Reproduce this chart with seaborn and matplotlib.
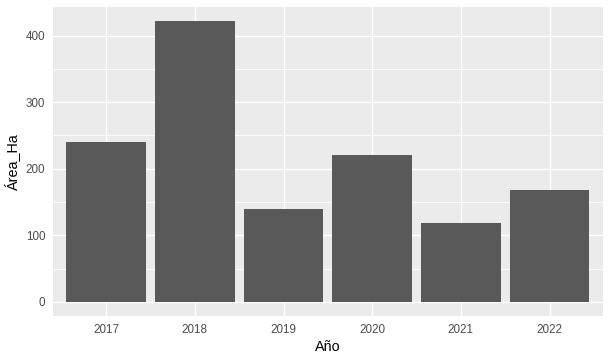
import numpy as np
import pandas as pd
import matplotlib
matplotlib.use("Agg")
import matplotlib.pyplot as plt
import seaborn as sns

################ DATA ################
years = ["2017", "2018", "2019", "2020", "2021", "2022"]
area_ha = [240.5, 421.8, 139.0, 221.2, 118.0, 167.4]

df = pd.DataFrame({"Año": years, "Área_Ha": area_ha})

################ STYLE (ggplot2 grey theme) ################
sns.set_theme(style="darkgrid", rc={
    "axes.facecolor": "#EBEBEB",
    "grid.color": "white",
    "axes.edgecolor": "#EBEBEB",
})
plt.rcParams["font.family"] = ["Liberation Sans", "DejaVu Sans"]

fig = plt.figure(figsize=(6.11, 3.62), dpi=100)
ax = fig.add_axes([53 / 611, 46 / 362, (602.7 - 53) / 611, (316 - 7) / 362])

sns.barplot(data=df, x="Año", y="Área_Ha", color="#595959", width=0.9,
            saturation=1, linewidth=0, edgecolor="none", ax=ax, zorder=3)

ymax = max(area_ha)
ax.set_xlim(-0.6, 5.6)
ax.set_ylim(-0.05 * ymax, 1.05 * ymax)
ax.set_yticks([0, 100, 200, 300, 400])
ax.set_yticks([50, 150, 250, 350], minor=True)

ax.grid(True, which="major", color="white", linewidth=1.07, zorder=0)
ax.grid(True, which="minor", axis="y", color="white", linewidth=0.55, zorder=0)
ax.set_axisbelow(True)
for s in ax.spines.values():
    s.set_visible(False)

ax.tick_params(axis="both", which="major", length=3.6, width=0.8, color="#333333",
               labelsize=8.4, labelcolor="#4D4D4D", pad=2)
ax.tick_params(axis="both", which="minor", length=0)

ax.set_xlabel("Año", fontsize=10.4, color="black", labelpad=3)
ax.set_ylabel("Área_Ha", fontsize=10.4, color="black", labelpad=4)

fig.savefig("out.png", dpi=100)
